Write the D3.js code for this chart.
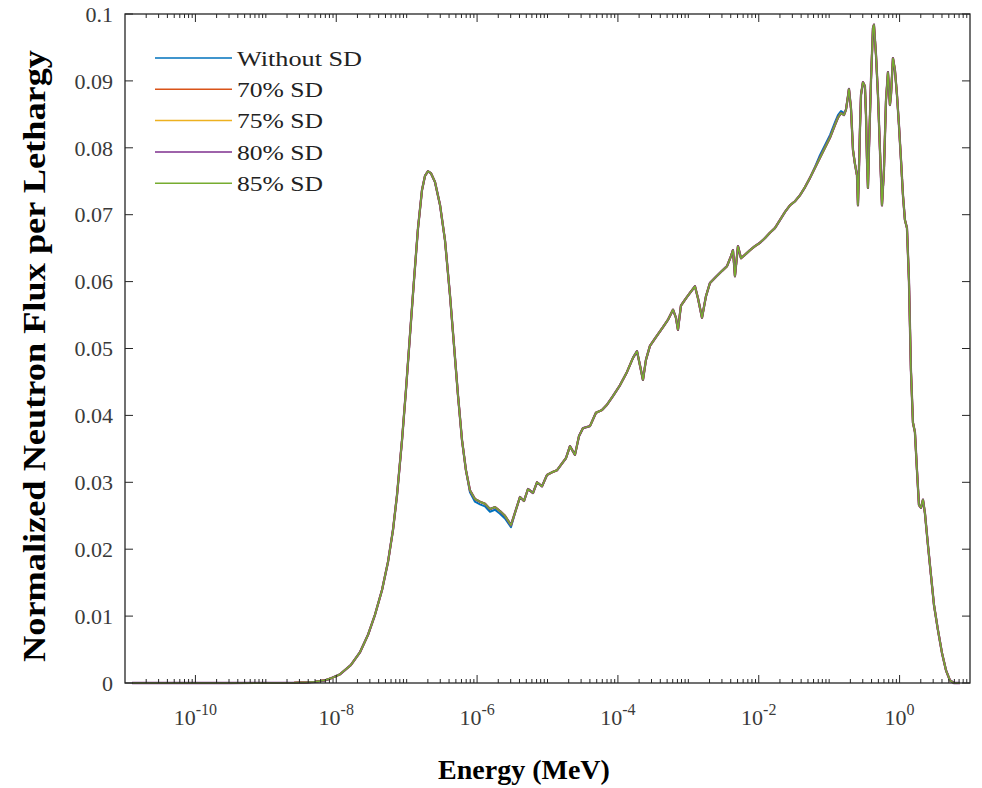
<!DOCTYPE html>
<html>
<head>
<meta charset="utf-8">
<script src="https://cdn.jsdelivr.net/npm/d3@7"></script>
<style>
    html, body { margin: 0; padding: 0; background: #fff; }
    #chart { width: 982px; height: 788px; }
    svg text { font-family: "Liberation Serif", "Times New Roman", Times, serif; }
</style>
</head>
<body>
<div id="chart"></div>
<script>
// ============================================================================
// NEUTRON SPECTRUM - normalized flux per lethargy vs energy, five SD cases
// ============================================================================

const seriesNames = ['Without SD', '70% SD', '75% SD', '80% SD', '85% SD'];

// log10 of energy in MeV
const logEnergy = [
    -10.9, -9.5, -8.6, -8.4, -8.3, -8.16, -8.075, -7.947, -7.791, -7.663,
    -7.549, -7.45, -7.35, -7.265, -7.194, -7.137, -7.066, -7.01, -6.953, -6.896,
    -6.839, -6.782, -6.74, -6.697, -6.655, -6.598, -6.527, -6.456, -6.385, -6.328,
    -6.271, -6.214, -6.158, -6.101, -6.03, -5.959, -5.888, -5.817, -5.746, -5.675,
    -5.604, -5.519, -5.448, -5.391, -5.334, -5.277, -5.206, -5.149, -5.078, -5.007,
    -4.936, -4.865, -4.809, -4.738, -4.681, -4.61, -4.553, -4.496, -4.397, -4.312,
    -4.226, -4.155, -4.07, -3.971, -3.871, -3.786, -3.729, -3.687, -3.644, -3.602,
    -3.545, -3.46, -3.36, -3.289, -3.218, -3.176, -3.147, -3.105, -3.034, -2.977,
    -2.906, -2.863, -2.806, -2.75, -2.693, -2.608, -2.522, -2.451, -2.394, -2.366,
    -2.338, -2.295, -2.252, -2.196, -2.125, -2.054, -1.983, -1.912, -1.841, -1.77,
    -1.699, -1.628, -1.557, -1.486, -1.415, -1.344, -1.273, -1.202, -1.131, -1.06,
    -0.989, -0.918, -0.875, -0.832, -0.79, -0.761, -0.733, -0.719, -0.69, -0.662,
    -0.634, -0.605, -0.591, -0.577, -0.563, -0.548, -0.52, -0.492, -0.477, -0.463,
    -0.449, -0.435, -0.406, -0.378, -0.364, -0.335, -0.307, -0.279, -0.25, -0.222,
    -0.193, -0.165, -0.137, -0.122, -0.094, -0.066, -0.037, -0.009, 0.02, 0.048,
    0.076, 0.105, 0.133, 0.161, 0.19, 0.218, 0.247, 0.275, 0.304, 0.332,
    0.36, 0.403, 0.446, 0.488, 0.545, 0.602, 0.659, 0.715, 0.772, 0.857
];

const fluxWithoutSD = [
    0, 0, 0.00002, 0.0001, 0.00018, 0.0004, 0.0007, 0.0013, 0.0027, 0.0046,
    0.0072, 0.0102, 0.0139, 0.0181, 0.0229, 0.0281, 0.0363, 0.0438, 0.052, 0.0602,
    0.068, 0.0737, 0.0758, 0.0765, 0.0762, 0.0749, 0.0715, 0.0662, 0.058, 0.0505,
    0.043, 0.0363, 0.0318, 0.0285, 0.0271, 0.0267, 0.0264, 0.0256, 0.0259, 0.0253,
    0.0246, 0.0233, 0.0259, 0.0278, 0.0272, 0.029, 0.0284, 0.03, 0.0294, 0.0311,
    0.0315, 0.0318, 0.0326, 0.0336, 0.0354, 0.0341, 0.0369, 0.0381, 0.0384, 0.0404,
    0.0408, 0.0416, 0.0429, 0.0445, 0.0465, 0.0486, 0.0496, 0.0475, 0.0453, 0.0483,
    0.0504, 0.0517, 0.0532, 0.0543, 0.0558, 0.0546, 0.0528, 0.0564, 0.0575, 0.0583,
    0.0593, 0.0575, 0.0546, 0.0578, 0.0598, 0.0607, 0.0616, 0.0623, 0.0638, 0.0647,
    0.0608, 0.0653, 0.0635, 0.064, 0.0647, 0.0653, 0.0658, 0.0665, 0.0673, 0.068,
    0.0692, 0.0704, 0.0714, 0.072, 0.0729, 0.0741, 0.0755, 0.0771, 0.0789, 0.0804,
    0.0819, 0.0838, 0.0849, 0.0855, 0.0852, 0.0857, 0.0877, 0.0888, 0.0859, 0.0797,
    0.0776, 0.0759, 0.0714, 0.0767, 0.0827, 0.0879, 0.0898, 0.0892, 0.0849, 0.0782,
    0.074, 0.0797, 0.0901, 0.0979, 0.0984, 0.0939, 0.0879, 0.0797, 0.0714, 0.0767,
    0.0871, 0.0913, 0.0864, 0.0879, 0.0934, 0.0916, 0.0879, 0.0834, 0.0782, 0.0729,
    0.0692, 0.068, 0.0602, 0.0468, 0.0389, 0.0375, 0.0318, 0.0266, 0.0262, 0.0274,
    0.0254, 0.0206, 0.0161, 0.0117, 0.0079, 0.0045, 0.0019, 0.0004, 0, 0
];

// the 70 % to 85 % SD runs coincide within the line width
const fluxWithSD = [
    0, 0, 0.00002, 0.0001, 0.00018, 0.0004, 0.0007, 0.0013, 0.0027, 0.0046,
    0.0072, 0.0102, 0.0139, 0.0181, 0.0229, 0.0281, 0.0363, 0.0438, 0.052, 0.0602,
    0.068, 0.0737, 0.0758, 0.0765, 0.0762, 0.0749, 0.0715, 0.0662, 0.058, 0.0505,
    0.043, 0.0363, 0.0318, 0.0288, 0.0275, 0.0271, 0.0268, 0.026, 0.0263, 0.0257,
    0.025, 0.0236, 0.0259, 0.0278, 0.0272, 0.029, 0.0284, 0.03, 0.0294, 0.0311,
    0.0315, 0.0318, 0.0326, 0.0336, 0.0354, 0.0341, 0.0369, 0.0381, 0.0384, 0.0404,
    0.0408, 0.0416, 0.0429, 0.0445, 0.0465, 0.0486, 0.0496, 0.0475, 0.0453, 0.0483,
    0.0504, 0.0517, 0.0532, 0.0543, 0.0558, 0.0546, 0.0528, 0.0564, 0.0575, 0.0583,
    0.0593, 0.0575, 0.0546, 0.0578, 0.0598, 0.0607, 0.0616, 0.0623, 0.0638, 0.0647,
    0.0608, 0.0653, 0.0635, 0.064, 0.0647, 0.0653, 0.0658, 0.0665, 0.0673, 0.068,
    0.0692, 0.0704, 0.0714, 0.072, 0.0729, 0.0741, 0.0755, 0.077, 0.0785, 0.08,
    0.0815, 0.0834, 0.0845, 0.0852, 0.0849, 0.0857, 0.0877, 0.0888, 0.0859, 0.0797,
    0.0776, 0.0759, 0.0714, 0.0767, 0.0827, 0.0879, 0.0898, 0.0892, 0.0849, 0.0782,
    0.074, 0.0797, 0.0901, 0.0979, 0.0984, 0.0939, 0.0879, 0.0797, 0.0714, 0.0767,
    0.0871, 0.0913, 0.0864, 0.0879, 0.0934, 0.0916, 0.0879, 0.0834, 0.0782, 0.0729,
    0.0692, 0.068, 0.0602, 0.0468, 0.0389, 0.0375, 0.0318, 0.0266, 0.0262, 0.0274,
    0.0254, 0.0206, 0.0161, 0.0117, 0.0079, 0.0045, 0.0019, 0.0004, 0, 0
];

const seriesValues = [fluxWithoutSD, fluxWithSD, fluxWithSD, fluxWithSD, fluxWithSD];

const xLabelExponents = [-10, -8, -6, -4, -2, 0];
const yTickValues = [0, 0.01, 0.02, 0.03, 0.04, 0.05, 0.06, 0.07, 0.08, 0.09, 0.1];

// MATLAB default line colours
const COLORS = ['#0072BD', '#D95319', '#EDB120', '#7E2F8E', '#77AC30'];
const LINE_WIDTHS = [2, 2, 2, 2.3, 1.5];
const AXIS = '#262626';
const SERIF = '"Liberation Serif", "Times New Roman", Times, serif';

function render() {
    const width = 982;
    const height = 788;
    const margin = { top: 14, right: 12, bottom: 105, left: 125 };
    const w = width - margin.left - margin.right;
    const h = height - margin.top - margin.bottom;

    const svg = d3.select('#chart').append('svg')
        .attr('width', width).attr('height', height)
        .style('font-family', SERIF);

    const g = svg.append('g')
        .attr('transform', `translate(${margin.left},${margin.top})`);

    const xScale = d3.scaleLog().domain([1e-11, 10]).range([0, w]);
    const yScale = d3.scaleLinear().domain([0, 0.1]).range([h, 0]);

    // Curves, drawn in legend order so 85% SD lands on top
    const line = d3.line()
        .x(d => xScale(Math.pow(10, d[0])))
        .y(d => yScale(d[1]));

    seriesValues.forEach((vals, i) => {
        g.append('path')
            .datum(logEnergy.map((e, k) => [e, vals[k]]))
            .attr('fill', 'none')
            .attr('stroke', COLORS[i])
            .attr('stroke-width', LINE_WIDTHS[i])
            .attr('stroke-linejoin', 'round')
            .attr('d', line);
    });

    // Box
    g.append('rect')
        .attr('x', 0).attr('y', 0)
        .attr('width', w).attr('height', h)
        .attr('fill', 'none')
        .attr('stroke', AXIS)
        .attr('stroke-width', 1.3);

    // X ticks (inward, bottom and top)
    const minor = [];
    for (let k = -11; k <= 0; k++) {
        for (let m = 1; m <= 9; m++) {
            if (m === 1 && (k % 2 === 0 || k === -11)) continue;
            minor.push(m * Math.pow(10, k));
        }
    }
    const major = xLabelExponents.map(e => Math.pow(10, e));

    [[minor, 4], [major, 8]].forEach(([vals, len]) => {
        [[h, h - len], [0, len]].forEach(([y1, y2]) => {
            g.selectAll(null)
                .data(vals)
                .join('line')
                .attr('x1', d => xScale(d)).attr('x2', d => xScale(d))
                .attr('y1', y1).attr('y2', y2)
                .attr('stroke', AXIS).attr('stroke-width', 1);
        });
    });

    // X tick labels as 10^n
    const xl = g.selectAll('.xlab')
        .data(xLabelExponents)
        .join('text')
        .attr('x', d => xScale(Math.pow(10, d)))
        .attr('y', h + 42)
        .attr('text-anchor', 'middle')
        .style('font-size', '22px')
        .style('fill', '#3a3a3a');
    xl.append('tspan').text('10');
    xl.append('tspan')
        .attr('dy', -10)
        .style('font-size', '16px')
        .text(d => String(d));

    // Y ticks (inward, left and right)
    [[0, 8], [w, w - 8]].forEach(([x1, x2]) => {
        g.selectAll(null)
            .data(yTickValues)
            .join('line')
            .attr('x1', x1).attr('x2', x2)
            .attr('y1', d => yScale(d)).attr('y2', d => yScale(d))
            .attr('stroke', AXIS).attr('stroke-width', 1);
    });

    g.selectAll('.ylab')
        .data(yTickValues)
        .join('text')
        .attr('x', -12)
        .attr('y', d => yScale(d))
        .attr('dy', '0.35em')
        .attr('text-anchor', 'end')
        .style('font-size', '22px')
        .style('fill', '#3a3a3a')
        .text(d => d3.format('~g')(d));

    // Legend
    const legendWidths = [125, 86, 86, 86, 86];
    seriesNames.forEach((name, i) => {
        const ly = 44 + i * 31.3;
        g.append('line')
            .attr('x1', 30).attr('x2', 107)
            .attr('y1', ly).attr('y2', ly)
            .attr('stroke', COLORS[i])
            .attr('stroke-width', 1.5);
        g.append('text')
            .attr('x', 112)
            .attr('y', ly)
            .attr('dy', '0.35em')
            .attr('textLength', legendWidths[i])
            .attr('lengthAdjust', 'spacingAndGlyphs')
            .style('font-size', '22px')
            .style('fill', '#222')
            .text(name);
    });

    // Axis titles
    svg.append('text')
        .attr('x', 524)
        .attr('y', 779)
        .attr('text-anchor', 'middle')
        .style('font-size', '28px')
        .style('font-weight', 'bold')
        .style('fill', '#000')
        .text('Energy (MeV)');

    svg.append('text')
        .attr('transform', 'rotate(-90)')
        .attr('x', -356)
        .attr('y', 45)
        .attr('text-anchor', 'middle')
        .attr('textLength', 612)
        .attr('lengthAdjust', 'spacingAndGlyphs')
        .style('font-size', '32px')
        .style('font-weight', 'bold')
        .style('fill', '#000')
        .text('Normalized Neutron Flux per Lethargy');
}

render();
</script>
</body>
</html>
